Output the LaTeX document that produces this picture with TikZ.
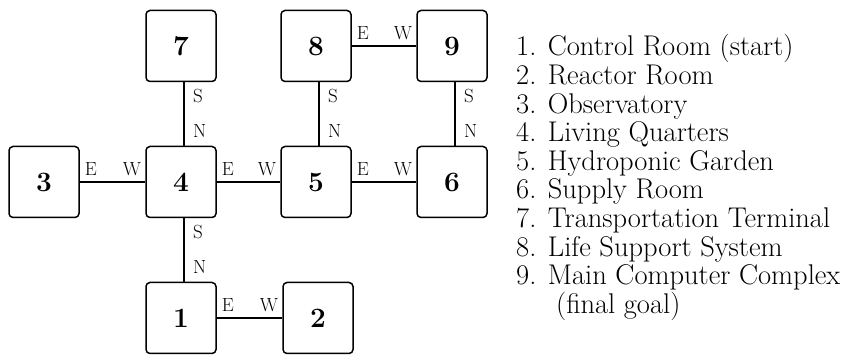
\documentclass[tikz,border=0pt]{standalone}
\begin{document}
\begin{tikzpicture}[x=1pt,y=-1pt,
  room/.style={draw,line width=1.5pt,rounded corners=4pt,minimum width=70pt,minimum height=71pt,inner sep=0pt,font=\fontsize{28}{32}\selectfont\bfseries},
  door/.style={line width=1.3pt},
  dlab/.style={inner sep=0pt,font=\fontsize{19}{21}\selectfont},
  item/.style={anchor=base west,inner sep=0pt,font=\fontsize{28.5}{32}\selectfont}]
\useasboundingbox (0,0) rectangle (852,355);
\node[room] (r7) at (181,46) {7};
\node[room] (r8) at (316,46) {8};
\node[room] (r9) at (452,46) {9};
\node[room] (r3) at (44,182) {3};
\node[room] (r4) at (181,182) {4};
\node[room] (r5) at (316,182) {5};
\node[room] (r6) at (452,182) {6};
\node[room] (r1) at (181,318) {1};
\node[room] (r2) at (318,318) {2};
% vertical connectors
\foreach \a/\b in {r7/r4,r8/r5,r9/r6,r4/r1}{
  \draw[door] ([xshift=3pt]\a.south) -- ([xshift=3pt]\b.north);
  \node[dlab,anchor=base west] (s-\a) at ([xshift=12pt,yshift=-20pt]\a.south) {S};
  \node[dlab,anchor=base west] (n-\b) at ([xshift=12pt,yshift=8pt]\b.north) {N};
}
% horizontal connectors
\foreach \a/\b in {r8/r9,r3/r4,r4/r5,r5/r6,r1/r2}{
  \draw[door] (\a.east) -- (\b.west);
  \node[dlab,anchor=base west] (e-\a) at ([xshift=5pt,yshift=6pt]\a.east) {E};
  \node[dlab,anchor=base east] (w-\b) at ([xshift=-4pt,yshift=6pt]\b.west) {W};
}
\node[item] (l1) at (516,56) {1. Control Room (start)};
\node[item] (l2) at (516,84.6) {2. Reactor Room};
\node[item] (l3) at (516,113.2) {3. Observatory};
\node[item] (l4) at (516,141.8) {4. Living Quarters};
\node[item] (l5) at (516,170.4) {5. Hydroponic Garden};
\node[item] (l6) at (516,199) {6. Supply Room};
\node[item] (l7) at (516,227.6) {7. Transportation Terminal};
\node[item] (l8) at (516,256.2) {8. Life Support System};
\node[item] (l9) at (516,284.8) {9. Main Computer Complex};
\node[item] (l10) at (556,313.4) {(final goal)};
\end{tikzpicture}
\end{document}
